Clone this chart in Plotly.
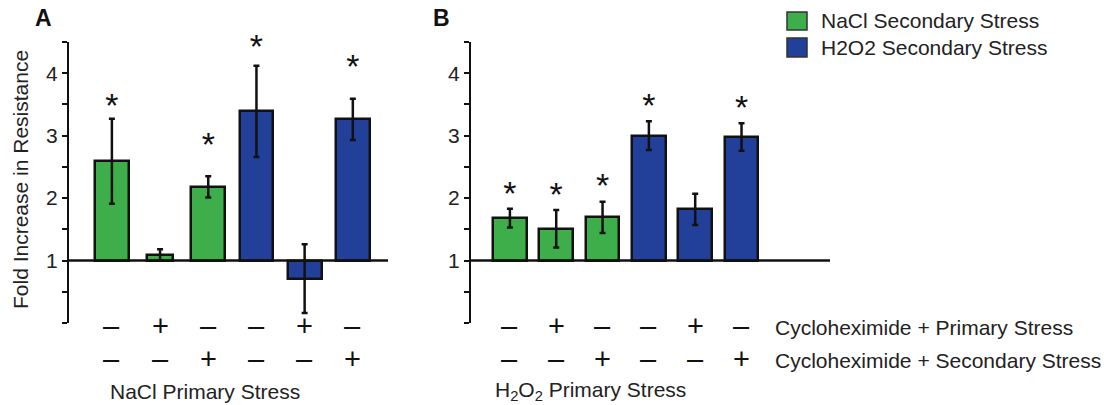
import plotly.graph_objects as go

# ---------------- data ----------------
cats_A = ["A1", "A2", "A3", "A4", "A5", "A6"]
cats_B = ["B1", "B2", "B3", "B4", "B5", "B6"]
series_A = ["NaCl", "NaCl", "NaCl", "H2O2", "H2O2", "H2O2"]
series_B = ["NaCl", "NaCl", "NaCl", "H2O2", "H2O2", "H2O2"]
values_A = [2.59, 1.09, 2.18, 3.39, 0.71, 3.26]
errors_A = [0.68, 0.09, 0.17, 0.73, 0.55, 0.33]
values_B = [1.68, 1.51, 1.69, 3.00, 1.82, 2.98]
errors_B = [0.15, 0.30, 0.25, 0.23, 0.25, 0.22]
star_A = [3.57, None, 2.95, 4.52, None, 4.20]
star_B = [2.17, 2.15, 2.30, 3.58, None, 3.55]
cyclo_primary = ["–", "+", "–", "–", "+", "–"]
cyclo_secondary = ["–", "–", "+", "–", "–", "+"]
legend_labels = ["NaCl Secondary Stress", "H2O2 Secondary Stress"]
row_labels = ["Cycloheximide + Primary Stress", "Cycloheximide + Secondary Stress"]
y_tickvals = [1, 2, 3, 4]
y_ticktext = ["1", "2", "3", "4"]
baseline = 1

# ---------------- styles ----------------
W, H = 1104, 405
FONT = "Liberation Sans, Arial, sans-serif"
COL = {"NaCl": "#3DAE49", "H2O2": "#22409A"}
INK = "#111111"
TXT = "#222222"
STAR_DROP = 0.14  # glyph '*' sits high in its text box


def px(x):
    return x / W


def py(y):
    return 1 - y / H


fig = go.Figure()


def add_panel(cats, series, vals, errs, stars, widths, xa, ya):
    fig.add_trace(go.Bar(
        x=cats, y=[v - baseline for v in vals], base=baseline,
        width=widths,
        marker=dict(color=[COL[s] for s in series],
                    line=dict(color=INK, width=2.5)),
        error_y=dict(type="data", array=errs, color=INK,
                     thickness=2.5, width=3),
        xaxis=xa, yaxis=ya, showlegend=False, hoverinfo="skip",
    ))
    sx = [c for c, s in zip(cats, stars) if s is not None]
    sy = [s - STAR_DROP for s in stars if s is not None]
    fig.add_trace(go.Scatter(
        x=sx, y=sy, mode="text", text=["*"] * len(sx),
        textposition="middle center", cliponaxis=False,
        textfont=dict(family=FONT, size=34, color=INK),
        xaxis=xa, yaxis=ya, showlegend=False, hoverinfo="skip",
    ))


add_panel(cats_A, series_A, values_A, errors_A, star_A,
          [0.7, 0.54, 0.7, 0.7, 0.7, 0.7], "x", "y")
add_panel(cats_B, series_B, values_B, errors_B, star_B,
          [0.73] * 6, "x2", "y2")

ydom = [py(323), py(42)]
yax = dict(range=[0, 4.5], tickvals=y_tickvals, ticktext=y_ticktext,
           showline=True, linecolor=INK, linewidth=2,
           ticks="outside", ticklen=5, tickwidth=2, tickcolor=INK,
           minor=dict(dtick=0.5, tick0=0, ticks="outside", ticklen=5,
                      tickwidth=2, tickcolor=INK, showgrid=False),
           showgrid=False, zeroline=False, domain=ydom, automargin=False,
           tickfont=dict(family=FONT, size=21, color=TXT))
xax = dict(showticklabels=False, showgrid=False, zeroline=False,
           showline=False, ticks="", type="category", automargin=False)

fig.update_layout(
    width=W, height=H, margin=dict(l=0, r=0, t=0, b=0, autoexpand=False),
    paper_bgcolor="white", plot_bgcolor="white",
    bargap=0,
    xaxis=dict(xax, domain=[px(69), px(388)], range=[-0.89, 5.73]),
    xaxis2=dict(xax, domain=[px(471), px(830)], range=[-0.84, 6.91]),
    yaxis=dict(yax, anchor="x"),
    yaxis2=dict(yax, anchor="x2"),
)

shapes = []
annots = []
# baseline lines at y = 1
for xr, yr in (("x domain", "y"), ("x2 domain", "y2")):
    shapes.append(dict(type="line", xref=xr, yref=yr, x0=0, x1=1,
                       y0=baseline, y1=baseline,
                       line=dict(color=INK, width=2.5)))


def note(x, y, text, size=21, xanchor="center", color=TXT, xref="paper", **kw):
    annots.append(dict(x=x, y=y, xref=xref, yref="paper", text=text,
                       xanchor=xanchor, yanchor="middle", showarrow=False,
                       font=dict(family=FONT, size=size, color=color), **kw))


# y-axis title
note(px(20), py(180), "Fold Increase in Resistance", textangle=-90)

# +/- rows
for cats, xr in ((cats_A, "x"), (cats_B, "x2")):
    for c, s1, s2 in zip(cats, cyclo_primary, cyclo_secondary):
        note(c, py(326), s1, size=29, color=INK, xref=xr)
        note(c, py(359), s2, size=29, color=INK, xref=xr)

for lbl, yy in zip(row_labels, (327, 360)):
    note(px(773), py(yy), lbl, xanchor="left")

note(px(205), py(391), "NaCl Primary Stress")
note(px(590), py(391), "H<sub>2</sub>O<sub>2</sub> Primary Stress")

# panel letters
note(px(44), py(18), "<b>A</b>", size=23, color=INK)
note(px(441), py(18), "<b>B</b>", size=23, color=INK)

# legend
for lbl, key, (y0, y1) in zip(legend_labels, ("NaCl", "H2O2"), ((12, 30), (38, 57))):
    shapes.append(dict(type="rect", xref="paper", yref="paper",
                       x0=px(787), x1=px(807), y0=py(y1), y1=py(y0),
                       fillcolor=COL[key], line=dict(color="#333333", width=1.5)))
    note(px(819), py((y0 + y1) / 2), lbl, xanchor="left")

fig.update_layout(shapes=shapes, annotations=annots)
fig.write_html("out.html", config={"displayModeBar": False},
               post_script="document.body.style.margin='0';document.body.style.overflow='hidden';")
